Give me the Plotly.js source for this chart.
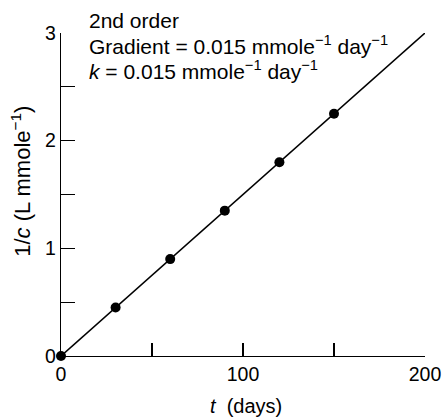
<!DOCTYPE html>
<html>
<head>
<meta charset="utf-8">
<script src="https://cdn.plot.ly/plotly-3.0.1.min.js"></script>
<style>html,body{margin:0;padding:0;background:#fff;}#chart{width:442px;height:417px;}</style>
</head>
<body>
<div id="chart"></div>
<script>
// Data
const tDays = [0, 30, 60, 90, 120, 150];
const invC = [0, 0.45, 0.9, 1.35, 1.8, 2.25];
const fitT = [0, 200];
const fitInvC = [0, 3];
const xTickVals = [0, 50, 100, 150, 200];
const xTickText = ['0', '', '100', '', '200'];
const yTickVals = [0, 0.5, 1, 1.5, 2, 2.5, 3];
const yTickText = ['0', '', '1', '', '2', '', '3'];
const noteLines = [
  '2nd order',
  'Gradient = 0.015 mmole<sup>−1</sup> day<sup>−1</sup>',
  '<i>k</i> = 0.015 mmole<sup>−1</sup> day<sup>−1</sup>'
];
const xTitle = '<i>t</i>  (days)';
const yTitle = '1/<i>c</i> (L mmole<sup>−1</sup>)';

const font = 'Liberation Sans, Arial, sans-serif';
const fs = 20;

const traces = [
  {x: fitT, y: fitInvC, mode: 'lines', line: {color: '#000', width: 1.6}, hoverinfo: 'skip', cliponaxis: false},
  {x: tDays, y: invC, mode: 'markers', marker: {color: '#000', size: 10}, cliponaxis: false}
];

const noteY = [1.039, 0.963, 0.885];
const annotations = noteLines.map((t, i) => ({
  xref: 'paper', yref: 'paper', x: 0.072, y: noteY[i], xanchor: 'left', yanchor: 'middle',
  align: 'left', showarrow: false, text: t,
  font: {family: font, size: 21, color: '#000'}
}));
annotations.push({xref: 'paper', yref: 'paper', x: -0.112, y: 0.54, xanchor: 'center', yanchor: 'middle',
  showarrow: false, textangle: -90, text: yTitle, font: {family: font, size: 22, color: '#000'}});
annotations.push({xref: 'paper', yref: 'paper', x: 0.508, y: -0.155, xanchor: 'center', yanchor: 'middle',
  showarrow: false, text: xTitle, font: {family: font, size: fs, color: '#000'}});

const layout = {
  width: 442, height: 417,
  margin: {l: 61, r: 17, t: 33, b: 61},
  paper_bgcolor: '#fff', plot_bgcolor: '#fff',
  showlegend: false,
  font: {family: font, size: fs, color: '#000'},
  xaxis: {
    range: [0, 200], tickvals: xTickVals, ticktext: xTickText,
    ticks: 'inside', ticklen: 13, tickwidth: 1.3, tickcolor: '#000',
    showline: true, linecolor: '#000', linewidth: 1.3,
    showgrid: false, zeroline: false,
    tickfont: {family: font, size: 19.5, color: '#000'},
    title: {text: ''}
  },
  yaxis: {
    range: [0, 3], tickvals: yTickVals, ticktext: yTickText,
    ticks: 'inside', ticklen: 14, tickwidth: 1.3, tickcolor: '#000',
    showline: true, linecolor: '#000', linewidth: 1.3,
    showgrid: false, zeroline: false,
    tickfont: {family: font, size: 19.5, color: '#000'},
    title: {text: ''}
  },
  annotations: annotations
};

Plotly.newPlot('chart', traces, layout, {staticPlot: true, displayModeBar: false});
</script>
</body>
</html>
